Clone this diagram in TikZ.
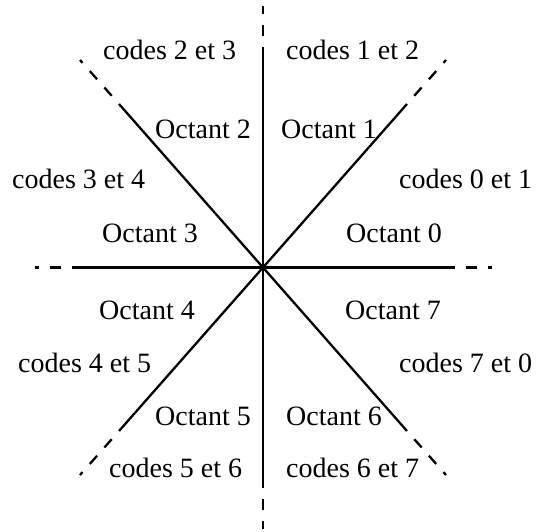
\documentclass[tikz,border=0pt]{standalone}
\usepackage{fontspec}
\setmainfont{Liberation Serif}
\begin{document}
\begin{tikzpicture}[x=1pt,y=-1pt,
  lbl/.style={anchor=base west,inner sep=0pt,font=\fontsize{28}{32}\selectfont},
  solidline/.style={line width=2.3pt},
  dashline/.style={line width=2.3pt,dash pattern=on 11pt off 11pt,dash phase=11pt}]
\useasboundingbox (0,0) rectangle (544,531);
\coordinate (c) at (263,267.5);
% solid ends
\coordinate (sT) at (263,47);
\coordinate (sB) at (263,488);
\coordinate (sL) at (72,267.5);
\coordinate (sR) at (455,267.5);
\coordinate (sUL) at (119,104);
\coordinate (sUR) at (407,104);
\coordinate (sLL) at (119,431);
\coordinate (sLR) at (407,431);
% outer ends
\coordinate (eT) at (263,6);
\coordinate (eB) at (263,529);
\coordinate (eL) at (35,267.5);
\coordinate (eR) at (492,267.5);
\coordinate (eUL) at (80,60);
\coordinate (eUR) at (446,60);
\coordinate (eLL) at (80,475);
\coordinate (eLR) at (446,475);
\foreach \d in {T,B,L,R,UL,UR,LL,LR}{
  \draw[solidline] (c) -- (s\d);
  \draw[dashline] (s\d) -- (e\d);
}
% labels
\node[lbl] (c23) at (103,59) {codes 2 et 3};
\node[lbl] (c12) at (286,59) {codes 1 et 2};
\node[lbl] (o2) at (155,138) {Octant 2};
\node[lbl] (o1) at (281,138) {Octant 1};
\node[lbl] (c34) at (12,188) {codes 3 et 4};
\node[lbl] (c01) at (399,188) {codes 0 et 1};
\node[lbl] (o3) at (102,242) {Octant 3};
\node[lbl] (o0) at (346,242) {Octant 0};
\node[lbl] (o4) at (99,319) {Octant 4};
\node[lbl] (o7) at (345,319) {Octant 7};
\node[lbl] (c45) at (18,372) {codes 4 et 5};
\node[lbl] (c70) at (399,372) {codes 7 et 0};
\node[lbl] (o5) at (155,425) {Octant 5};
\node[lbl] (o6) at (286,425) {Octant 6};
\node[lbl] (c56) at (109,477) {codes 5 et 6};
\node[lbl] (c67) at (286,477) {codes 6 et 7};
\end{tikzpicture}
\end{document}
